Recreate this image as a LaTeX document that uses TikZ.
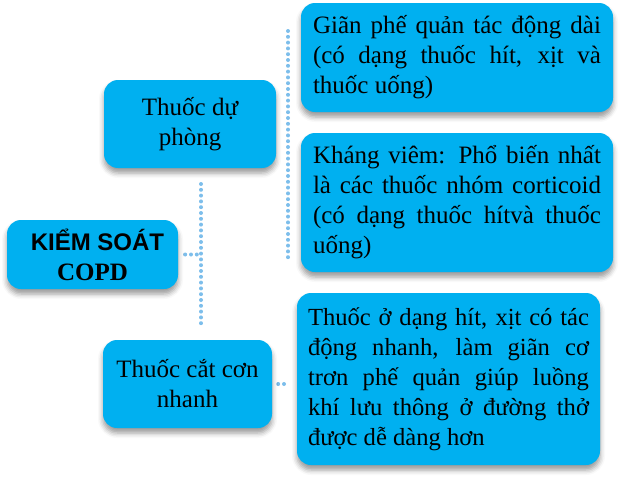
\documentclass[tikz,border=0pt]{standalone}
\usepackage{fontspec}
\setmainfont{Liberation Serif}
\newfontfamily\arialfont{Liberation Sans}
\usepackage{tikz}
\usetikzlibrary{shadows.blur}
\pgfdeclarelayer{edgelayer}
\pgfdeclarelayer{nodelayer}
\pgfsetlayers{edgelayer,nodelayer,main}
\definecolor{boxblue}{RGB}{0,176,240}
\definecolor{dotblue}{RGB}{125,190,235}
\tikzstyle{box}=[rounded corners=14pt, fill=boxblue, inner sep=0pt, blur shadow={shadow xshift=0pt, shadow yshift=-5pt, shadow blur radius=5pt, shadow opacity=40}, font=\fontsize{25}{30}\selectfont]
\tikzstyle{leftbox}=[box, align=center]
\tikzstyle{textbox}=[box, align=justify, inner xsep=12pt]
\tikzstyle{dots}=[draw=dotblue, line width=4pt, line cap=round, dash pattern=on 0pt off 5.8pt]
\hyphenpenalty=10000
\exhyphenpenalty=10000

\begin{document}
\begin{tikzpicture}[x=1pt, y=-1pt]
	\useasboundingbox (0,0) rectangle (625,490);
	\begin{pgfonlayer}{nodelayer}

	%left column
		\node [style=leftbox, minimum width=171pt, minimum height=69pt] (0) at (92.5,254.5) {{\arialfont\bfseries\fontsize{24}{28}\selectfont\hspace*{10pt}KIỂM SOÁT}\\{\bfseries COPD}};
		\node [style=leftbox, minimum width=172pt, minimum height=88pt] (1) at (190,124) {Thuốc dự\\phòng};
		\node [style=leftbox, minimum width=169pt, minimum height=88pt] (2) at (187.5,384) {Thuốc cắt cơn\\nhanh};

	%right column
		\node [style=textbox, text width=288pt, minimum height=109pt] (3) at (457,57.5) {Giãn phế quản tác động dài\linebreak (có dạng thuốc hít, xịt và\linebreak thuốc uống)};
		\node [style=textbox, text width=288pt, minimum height=139pt] (4) at (457,202.5) {Kháng viêm: Phổ biến nhất\linebreak là các thuốc nhóm corticoid\linebreak (có dạng thuốc hítvà thuốc\linebreak uống)};
		\node [style=textbox, text width=281pt, inner xsep=11pt, minimum height=172pt, font=\fontsize{24.6}{30}\selectfont] (5) at (448.5,379) {Thuốc ở dạng hít, xịt có tác\linebreak động nhanh, làm giãn cơ\linebreak trơn phế quản giúp luồng\linebreak khí lưu thông ở đường thở\linebreak được dễ dàng hơn};

	\end{pgfonlayer}
	\begin{pgfonlayer}{edgelayer}

		%dotted links
		\coordinate (a) at (288,31);
		\coordinate (b) at (288,258);
		\coordinate (c) at (201,184);
		\coordinate (d) at (201,325);
		\draw [style=dots] (a) -- (b);
		\draw [style=dots] (c) -- (d);
		\draw [style=dots, shorten <=7pt] (0.east) -- (0.east -| c);
		\draw [style=dots, shorten <=6pt, shorten >=9pt] (2.east) -- (2.east -| 5.west);

	\end{pgfonlayer}
\end{tikzpicture}
\end{document}
